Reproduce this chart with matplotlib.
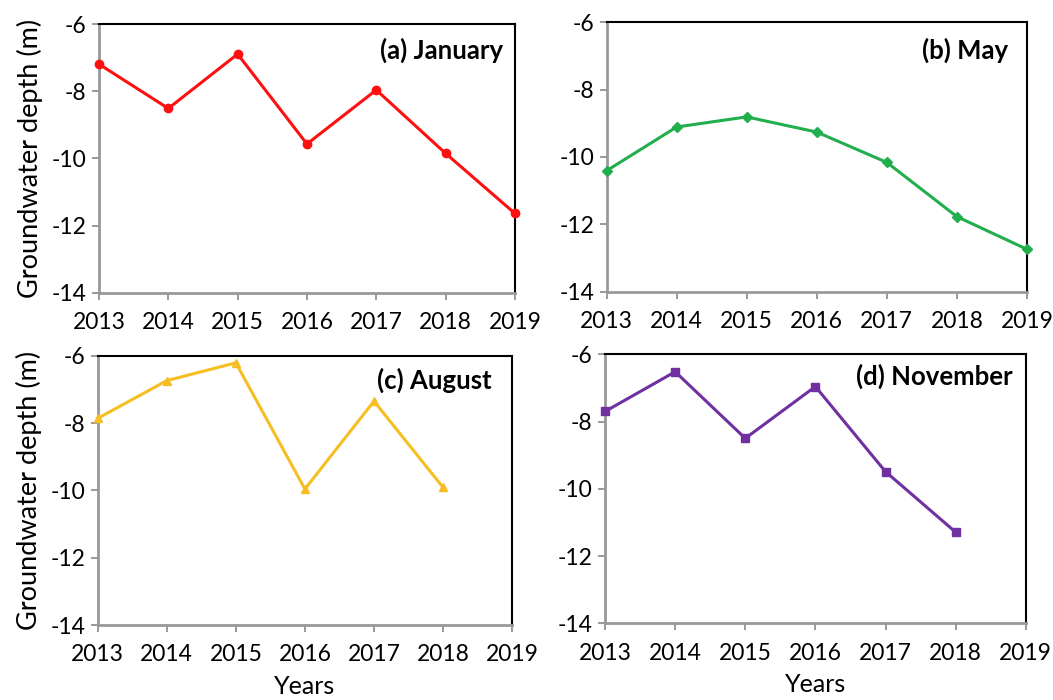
import matplotlib
matplotlib.use("Agg")
import matplotlib.pyplot as plt

years = [2013, 2014, 2015, 2016, 2017, 2018, 2019]
jan = [-7.19, -8.51, -6.89, -9.57, -7.96, -9.85, -11.64]
may = [-10.41, -9.11, -8.81, -9.26, -10.16, -11.77, -12.74]
aug_years = [2013, 2014, 2015, 2016, 2017, 2018]
aug = [-7.86, -6.74, -6.21, -9.96, -7.35, -9.91]
nov_years = [2013, 2014, 2015, 2016, 2017, 2018]
nov = [-7.70, -6.52, -8.50, -6.96, -9.49, -11.29]

yticks = [-14, -12, -10, -8, -6]

plt.rcParams['font.family'] = ['Lato', 'DejaVu Sans']
plt.rcParams['axes.unicode_minus'] = False

fig = plt.figure(figsize=(10.53, 7.0), dpi=100)

panels = [
    ([0.094, 0.582, 0.395, 0.3834], years, jan, '#FF0F0F', 'o', '(a) January', (0.971, 0.904), True, False),
    ([0.576, 0.5833, 0.3992, 0.3849], years, may, '#22AE4C', 'D', '(b) May', (0.955, 0.897), False, False),
    ([0.0928, 0.1071, 0.3935, 0.3847], aug_years, aug, '#F7BE22', '^', '(c) August', (0.951, 0.91), True, True),
    ([0.5746, 0.1096, 0.3995, 0.3843], nov_years, nov, '#7030A0', 's', '(d) November', (0.97, 0.917), False, True),
]

for rect, xs, ys, col, mk, title, tpos, ylab, xlab in panels:
    ax = fig.add_axes(rect)
    ms = 6 if mk != 'D' else 5
    ax.plot(xs, ys, color=col, lw=2.2, marker=mk, ms=ms, clip_on=False, zorder=3)
    ax.set_xlim(2013, 2019)
    ax.set_ylim(-14, -6)
    ax.set_xticks(years)
    ax.set_yticks(yticks)
    ax.tick_params(axis='both', labelsize=16.5, colors='#888888', labelcolor='black',
                   direction='out', length=5, width=1.2)
    ax.tick_params(axis='x', pad=9)
    ax.tick_params(axis='y', pad=4)
    for s in ['left', 'bottom']:
        ax.spines[s].set_color('#999999')
        ax.spines[s].set_linewidth(2)
    for s in ['top', 'right']:
        ax.spines[s].set_color('black')
        ax.spines[s].set_linewidth(1.5)
    ax.text(tpos[0], tpos[1], title, transform=ax.transAxes, ha='right', va='center',
            fontsize=18.5, fontweight='bold')
    if ylab:
        ax.set_ylabel('Groundwater depth (m)', fontsize=19.5, labelpad=6)
    if xlab:
        ax.set_xlabel('Years', fontsize=18, labelpad=7)

fig.savefig('out.png', dpi=100)
